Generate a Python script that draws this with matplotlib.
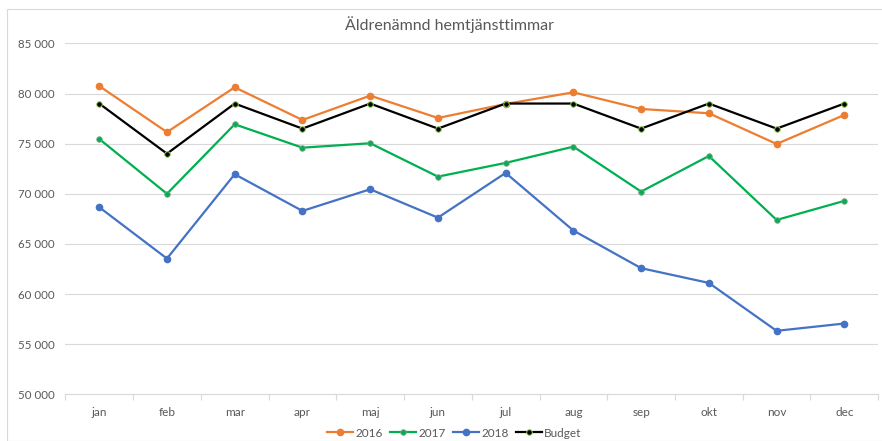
import matplotlib
matplotlib.use("Agg")
import matplotlib.pyplot as plt
from matplotlib.patches import Rectangle
from matplotlib.ticker import FuncFormatter

months = ["jan", "feb", "mar", "apr", "maj", "jun", "jul", "aug", "sep", "okt", "nov", "dec"]
v2016 = [80750, 76150, 80620, 77360, 79790, 77560, 78960, 80120, 78460, 78030, 74970, 77860]
v2017 = [75470, 70000, 76930, 74600, 75040, 71710, 73080, 74700, 70220, 73770, 67390, 69290]
v2018 = [68660, 63540, 71950, 68290, 70450, 67620, 72080, 66330, 62580, 61110, 56330, 57060]
budget = [79000, 74000, 79000, 76500, 79000, 76500, 79000, 79000, 76500, 79000, 76500, 79000]
yticks = [50000, 55000, 60000, 65000, 70000, 75000, 80000, 85000]

plt.rcParams['font.family'] = ['Lato', 'DejaVu Sans']
txt = '#595959'

fig = plt.figure(figsize=(8.82, 4.41), dpi=100)
fig.patches.append(Rectangle((7/882, 0), 1, 1 - 9/441, transform=fig.transFigure,
                             fill=False, edgecolor='#d9d9d9', linewidth=0.8))
ax = fig.add_axes([0.0741, 0.1059, 0.9216, 0.7957])
x = list(range(len(months)))
ax.plot(x, v2016, color='#ED7D31', lw=1.6, marker='o', ms=4.5, mec='#ED7D31', label='2016', zorder=3)
ax.plot(x, v2017, color='#00B050', lw=1.6, marker='o', ms=4, mfc='#00B050', mec='#7fa08a', mew=0.6, label='2017', zorder=3)
ax.plot(x, v2018, color='#4472C4', lw=1.6, marker='o', ms=4.5, mec='#4472C4', label='2018', zorder=3)
ax.plot(x, budget, color='black', lw=1.6, marker='o', ms=4, mfc='black', mec='#92D050', mew=0.7, label='Budget', zorder=4)

ax.set_xlim(-0.5, 11.5)
ax.set_ylim(50000, 85000)
ax.set_yticks(yticks)
ax.yaxis.set_major_formatter(FuncFormatter(lambda v, p: f"{int(v):,}".replace(",", " ")))
ax.set_xticks(x)
ax.set_xticklabels(months)
ax.set_xticks([i - 0.5 for i in range(13)], minor=True)
ax.tick_params(axis='x', which='major', length=0, pad=9, labelsize=8.5, labelcolor=txt)
ax.tick_params(axis='x', which='minor', length=4, color='#d9d9d9', width=0.8)
ax.tick_params(axis='y', length=0, labelsize=8.3, labelcolor=txt)
for lbl in ax.get_yticklabels():
    lbl.set_horizontalalignment('left')
ax.yaxis.set_tick_params(pad=34)
ax.grid(axis='y', color='#d9d9d9', lw=0.8)
ax.set_axisbelow(True)
for s in ['top', 'right', 'left']:
    ax.spines[s].set_visible(False)
ax.spines['bottom'].set_color('#d9d9d9')
ax.spines['bottom'].set_linewidth(0.8)

fig.text(0.510, 0.945, 'Äldrenämnd hemtjänsttimmar', ha='center', va='center', fontsize=11.5, color=txt)
fig.legend(loc='center', bbox_to_anchor=(0.515, 0.018), ncol=4, frameon=False, fontsize=8.5,
           handlelength=2.2, handletextpad=0.2, columnspacing=0.6, labelcolor=txt)
fig.savefig('out.png', dpi=100)
